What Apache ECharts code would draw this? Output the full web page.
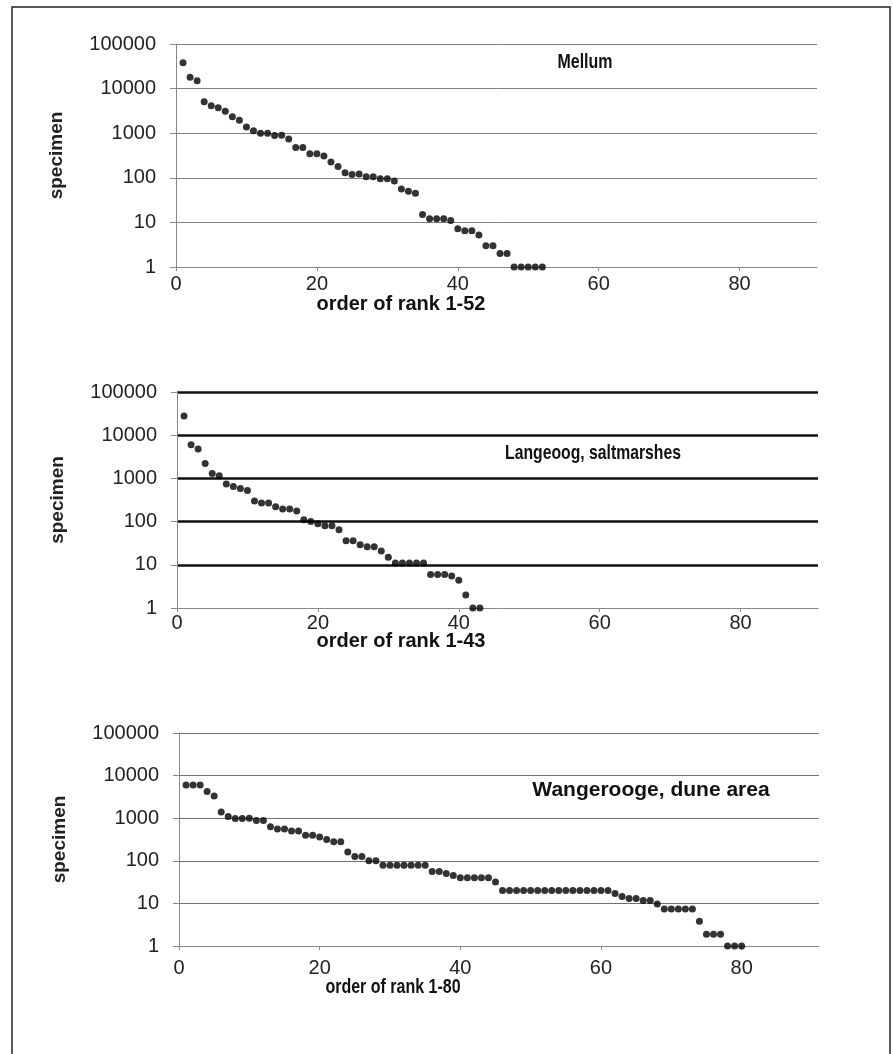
<!DOCTYPE html>
<html lang="en" style="height: 100%">
<head>
    <meta charset="utf-8">
    <title>rank abundance</title>
    <script src="https://cdn.jsdelivr.net/npm/echarts@6/dist/echarts.min.js"></script>
</head>
<body style="height: 100%; margin: 0; background: #fff">
    <div id="main" style="width: 893px; height: 1054px"></div>
    <script>
        // specimen counts per rank
        const mellum = [38000, 18000, 15000, 5100, 4100, 3700, 3100, 2350, 1950, 1380,
            1130, 1000, 1000, 890, 900, 740, 480, 480, 345, 345,
            310, 225, 180, 130, 118, 122, 105, 105, 95, 95,
            85, 56, 50, 45, 15, 12, 12, 12, 11, 7.2,
            6.5, 6.5, 5.2, 3, 3, 2, 2, 1, 1, 1,
            1, 1];
        const langeoog = [28000, 6000, 4800, 2200, 1300, 1150, 740, 650, 585, 525,
            300, 270, 270, 220, 195, 195, 175, 110, 100, 89,
            80, 80, 65, 36, 36, 29, 26, 26, 21, 15,
            11, 11, 11, 11, 11, 6, 6, 6, 5.5, 4.4,
            2, 1, 1];
        const wangerooge = [6000, 6000, 6000, 4250, 3300, 1400, 1100, 980, 980, 1000,
            880, 880, 630, 560, 560, 500, 500, 400, 400, 360,
            315, 280, 280, 160, 127, 127, 100, 100, 79, 79,
            79, 79, 79, 79, 79, 56, 56, 50, 45, 40,
            40, 40, 40, 40, 32, 20, 20, 20, 20, 20,
            20, 20, 20, 20, 20, 20, 20, 20, 20, 20,
            20, 17, 14.5, 13, 13, 11.7, 11.7, 9.7, 7.4, 7.4,
            7.4, 7.4, 7.4, 3.8, 1.9, 1.9, 1.9, 1, 1, 1];

        const panelTitles = ['Mellum', 'Langeoog, saltmarshes', 'Wangerooge, dune area'];
        const xNames = ['order of rank 1-52', 'order of rank 1-43', 'order of rank 1-80'];
        const xTicks = [0, 20, 40, 60, 80];

        const FONT = 'Liberation Sans, Arial, sans-serif';

        // plot boxes of the three panels
        const grids = [
            { left: 176, top: 44, width: 641, height: 223 },
            { left: 177, top: 392, width: 641, height: 216 },
            { left: 179, top: 733, width: 640, height: 213 }
        ];
        const gridLine = [
            { color: '#808080', width: 1 },
            { color: '#111', width: 2.5 },
            { color: '#707070', width: 1 }
        ];
        const xLabelGap = [7, 5, 12];

        const myChart = echarts.init(document.getElementById('main'));

        const toPoints = arr => arr.map((v, i) => [i + 1, v]);

        // free text: the scan has some of it squeezed horizontally
        const label = (text, x, y, size, sx) => ({
            type: 'text', x: x, y: y, scaleX: sx, silent: true,
            style: {
                text: text, font: 'bold ' + size + 'px ' + FONT, fill: '#111',
                align: 'center', verticalAlign: 'middle'
            }
        });

        const option = {
            animation: false,
            backgroundColor: '#fff',
            grid: grids,
            xAxis: grids.map((g, i) => ({
                gridIndex: i,
                type: 'value',
                min: 0,
                max: 91,
                axisLine: { lineStyle: { color: '#888', width: 1 } },
                axisTick: { show: true, customValues: xTicks, length: 4, lineStyle: { color: '#888' } },
                axisLabel: { customValues: xTicks, fontFamily: FONT, fontSize: 20, color: '#222', margin: xLabelGap[i] },
                splitLine: { show: false }
            })),
            yAxis: grids.map((g, i) => ({
                gridIndex: i,
                type: 'log',
                logBase: 10,
                min: 1,
                max: 100000,
                splitNumber: 5,
                name: 'specimen',
                nameLocation: 'middle',
                nameRotate: 90,
                nameGap: 110,
                nameTextStyle: { fontFamily: FONT, fontWeight: 'bold', fontSize: 19, color: '#222' },
                axisLine: { show: true, lineStyle: { color: '#888', width: 1 } },
                axisTick: { show: true, length: 6, lineStyle: { color: '#888' } },
                axisLabel: {
                    fontFamily: FONT, fontSize: 20, color: '#222', margin: 20,
                    formatter: v => String(Math.round(v))
                },
                splitLine: { show: true, showMinLine: false, lineStyle: gridLine[i] }
            })),
            series: [mellum, langeoog, wangerooge].map((arr, i) => ({
                type: 'scatter',
                xAxisIndex: i,
                yAxisIndex: i,
                symbol: 'circle',
                symbolSize: 7,
                itemStyle: { color: '#000' },
                data: toPoints(arr)
            })),
            graphic: [
                {
                    type: 'rect',
                    shape: { x: 12, y: 7, width: 878, height: 1060 },
                    style: { fill: null, stroke: '#222', lineWidth: 1.5 },
                    silent: true
                },
                label(panelTitles[0], 585, 62, 21, 0.76),
                label(panelTitles[1], 593, 453, 21, 0.75),
                label(panelTitles[2], 651, 790, 21, 1),
                label(xNames[0], 401, 304, 20, 1),
                label(xNames[1], 401, 641, 20, 1),
                label(xNames[2], 393, 987, 20, 0.8)
            ]
        };

        myChart.setOption(option);
    </script>
</body>
</html>
